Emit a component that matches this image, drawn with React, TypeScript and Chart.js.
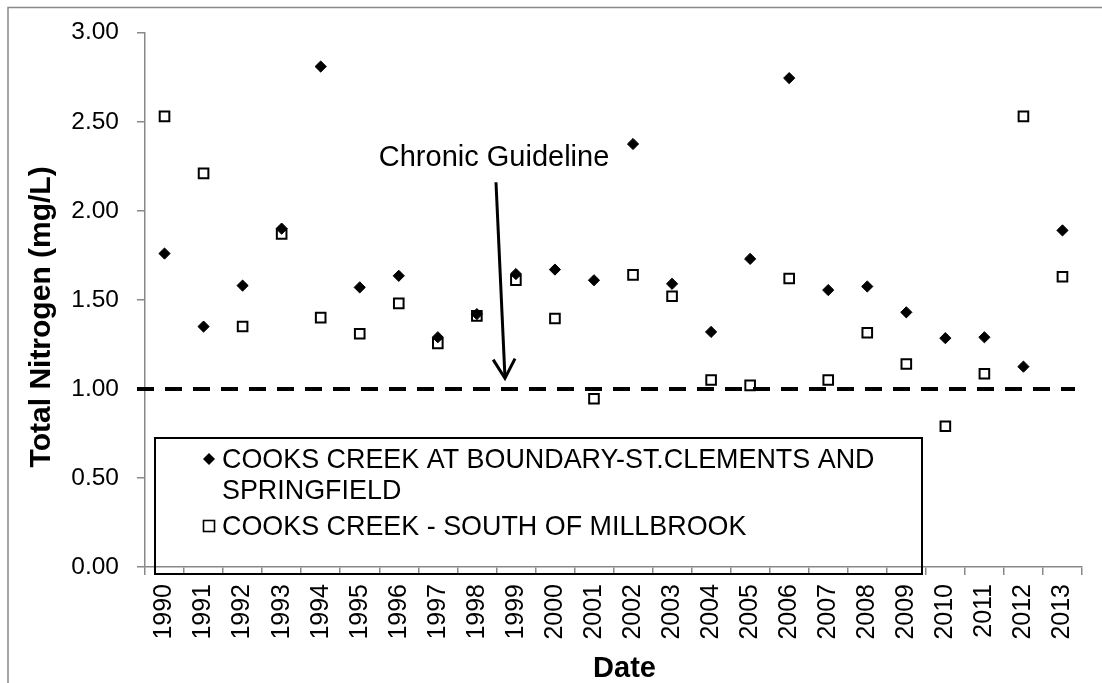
import React, { useEffect, useRef } from 'react';
import { Chart, registerables } from 'chart.js';

Chart.register(...registerables);

// ---------- data ----------
const years = [
  '1990', '1991', '1992', '1993', '1994', '1995', '1996', '1997', '1998', '1999', '2000', '2001',
  '2002', '2003', '2004', '2005', '2006', '2007', '2008', '2009', '2010', '2011', '2012', '2013',
];
const boundaryValues = [
  1.76, 1.35, 1.58, 1.9, 2.81, 1.57, 1.635, 1.29, 1.42, 1.645, 1.67, 1.61,
  2.375, 1.59, 1.32, 1.73, 2.745, 1.555, 1.575, 1.43, 1.285, 1.29, 1.125, 1.89,
];
const millbrookValues = [
  2.53, 2.21, 1.35, 1.87, 1.4, 1.31, 1.48, 1.255, 1.41, 1.61, 1.395, 0.945,
  1.64, 1.52, 1.05, 1.02, 1.62, 1.05, 1.315, 1.14, 0.79, 1.085, 2.53, 1.63,
];
const seriesNames = [
  'COOKS CREEK AT BOUNDARY-ST.CLEMENTS AND SPRINGFIELD',
  'COOKS CREEK - SOUTH OF MILLBROOK',
];
const legendLines = [
  ['COOKS CREEK AT BOUNDARY-ST.CLEMENTS AND', 'SPRINGFIELD'],
  ['COOKS CREEK - SOUTH OF MILLBROOK'],
];
const yMin = 0;
const yMax = 3;
const yStep = 0.5;
const GUIDELINE = 1.0;
const annotationText = 'Chronic Guideline';
// annotation anchor points in data units (category index, value)
const arrowTail = [8.49, 2.16];
const arrowTip = [8.72, 1.06];
const annotationAnchor = [8.44, 2.254];
const yTitle = 'Total Nitrogen (mg/L)';
const xTitle = 'Date';

const FONT = '"Liberation Sans", Arial, Helvetica, sans-serif';
const AXIS_GRAY = '#898989';

const overlayPlugin = {
  id: 'overlay',
  beforeDatasetsDraw(chart: any) {
    const { ctx, chartArea: a, scales } = chart;
    const y = scales.y;
    const gy = y.getPixelForValue(GUIDELINE);
    ctx.save();
    ctx.strokeStyle = '#000';
    ctx.lineWidth = 4;
    ctx.setLineDash([17, 11]);
    ctx.beginPath();
    ctx.moveTo(a.left - 8, gy);
    ctx.lineTo(a.right - 7, gy);
    ctx.stroke();
    ctx.restore();
  },
  afterDraw(chart: any) {
    const { ctx, chartArea: a, scales, width, height } = chart;
    const x = scales.x;
    const y = scales.y;
    ctx.save();

    // outer frame (partially cut off)
    ctx.strokeStyle = AXIS_GRAY;
    ctx.lineWidth = 1.5;
    ctx.beginPath();
    ctx.moveTo(8, height);
    ctx.lineTo(8, 7.5);
    ctx.lineTo(width, 7.5);
    ctx.stroke();

    // y title
    ctx.fillStyle = '#000';
    ctx.font = `bold 30px ${FONT}`;
    ctx.textAlign = 'center';
    ctx.textBaseline = 'alphabetic';
    ctx.save();
    ctx.translate(50, (a.top + a.bottom) / 2 + 17);
    ctx.rotate(-Math.PI / 2);
    ctx.fillText(yTitle, 0, 0);
    ctx.restore();

    // x title
    ctx.font = `bold 29px ${FONT}`;
    ctx.fillText(xTitle, (a.left + a.right) / 2 + 11, height - 6);

    // annotation text
    ctx.font = `29px ${FONT}`;
    ctx.fillText(
      annotationText,
      x.getPixelForValue(annotationAnchor[0]),
      y.getPixelForValue(annotationAnchor[1])
    );

    // arrow
    const tx = x.getPixelForValue(arrowTail[0]);
    const ty = y.getPixelForValue(arrowTail[1]);
    const hx = x.getPixelForValue(arrowTip[0]);
    const hy = y.getPixelForValue(arrowTip[1]);
    ctx.strokeStyle = '#000';
    ctx.lineWidth = 3;
    ctx.lineCap = 'butt';
    ctx.beginPath();
    ctx.moveTo(tx, ty);
    ctx.lineTo(hx, hy - 1);
    ctx.stroke();
    const ang = Math.atan2(hy - ty, hx - tx);
    const len = 22;
    const spread = 0.52;
    ctx.beginPath();
    ctx.moveTo(hx - len * Math.cos(ang - spread), hy - len * Math.sin(ang - spread));
    ctx.lineTo(hx, hy);
    ctx.lineTo(hx - len * Math.cos(ang + spread), hy - len * Math.sin(ang + spread));
    ctx.lineJoin = 'miter';
    ctx.stroke();

    // legend box
    const lx = a.left + 10;
    const ly = 438;
    const lw = 767;
    const lh = 136;
    ctx.lineWidth = 2;
    ctx.strokeRect(lx, ly, lw, lh);

    ctx.font = `26.9px ${FONT}`;
    ctx.textAlign = 'left';
    ctx.fillStyle = '#000';
    const textX = lx + 67;
    // series 1: diamond
    const m1x = lx + 54;
    const m1y = ly + 21;
    ctx.beginPath();
    ctx.moveTo(m1x, m1y - 6);
    ctx.lineTo(m1x + 6, m1y);
    ctx.lineTo(m1x, m1y + 6);
    ctx.lineTo(m1x - 6, m1y);
    ctx.closePath();
    ctx.fill();
    ctx.fillText(legendLines[0][0], textX, ly + 29.7);
    ctx.fillText(legendLines[0][1], textX, ly + 61.3);
    // series 2: square
    const m2y = ly + 88;
    ctx.lineWidth = 1.6;
    ctx.strokeRect(m1x - 5.5, m2y - 5.5, 11, 11);
    ctx.fillText(legendLines[1][0], textX, ly + 97);

    ctx.restore();
  },
};

export default function App() {
  const canvasRef = useRef<HTMLCanvasElement | null>(null);

  useEffect(() => {
    const canvas = canvasRef.current;
    if (!canvas) return;
    const chart = new Chart(canvas, {
      type: 'line',
      data: {
        labels: years,
        datasets: [
          {
            label: seriesNames[0],
            data: boundaryValues,
            showLine: false,
            pointStyle: 'rectRot',
            pointRadius: 5.6,
            pointBackgroundColor: '#000',
            pointBorderColor: '#000',
            pointBorderWidth: 1,
            borderColor: '#000',
            backgroundColor: '#000',
          },
          {
            label: seriesNames[1],
            data: millbrookValues,
            showLine: false,
            pointStyle: 'rect',
            pointRadius: 6.8,
            pointBackgroundColor: 'rgba(0,0,0,0)',
            pointBorderColor: '#000',
            pointBorderWidth: 2,
            borderColor: '#000',
            backgroundColor: 'rgba(0,0,0,0)',
          },
        ],
      },
      options: {
        responsive: false,
        animation: false,
        events: [],
        layout: { padding: { top: 30, right: 20, left: 0, bottom: 0 } },
        plugins: {
          legend: { display: false },
          tooltip: { enabled: false },
          title: { display: false },
        },
        scales: {
          x: {
            type: 'category',
            offset: true,
            afterFit: (scale: any) => {
              scale.height = 116;
            },
            grid: {
              display: true,
              offset: true,
              drawOnChartArea: false,
              drawTicks: true,
              tickLength: 8,
              color: AXIS_GRAY,
              lineWidth: 1.5,
            },
            border: { display: true, color: AXIS_GRAY, width: 1.5 },
            ticks: {
              autoSkip: false,
              minRotation: 90,
              maxRotation: 90,
              padding: 9,
              color: '#000',
              font: { family: FONT, size: 25 },
            },
          },
          y: {
            min: yMin,
            max: yMax,
            afterFit: (scale: any) => {
              scale.width = 145;
            },
            grid: {
              display: true,
              drawOnChartArea: false,
              drawTicks: true,
              tickLength: 8,
              color: AXIS_GRAY,
              lineWidth: 1.5,
            },
            border: { display: true, color: AXIS_GRAY, width: 1.5 },
            ticks: {
              stepSize: yStep,
              padding: 18,
              color: '#000',
              font: { family: FONT, size: 24.5 },
              callback: (v: any) => Number(v).toFixed(2),
            },
          },
        },
      },
      plugins: [overlayPlugin],
    });
    return () => chart.destroy();
  }, []);

  return (
    <div style={{ position: 'absolute', left: 0, top: 0, width: 1102, height: 683, background: '#fff' }}>
      <canvas ref={canvasRef} width={1102} height={683} style={{ display: 'block' }} />
    </div>
  );
}
